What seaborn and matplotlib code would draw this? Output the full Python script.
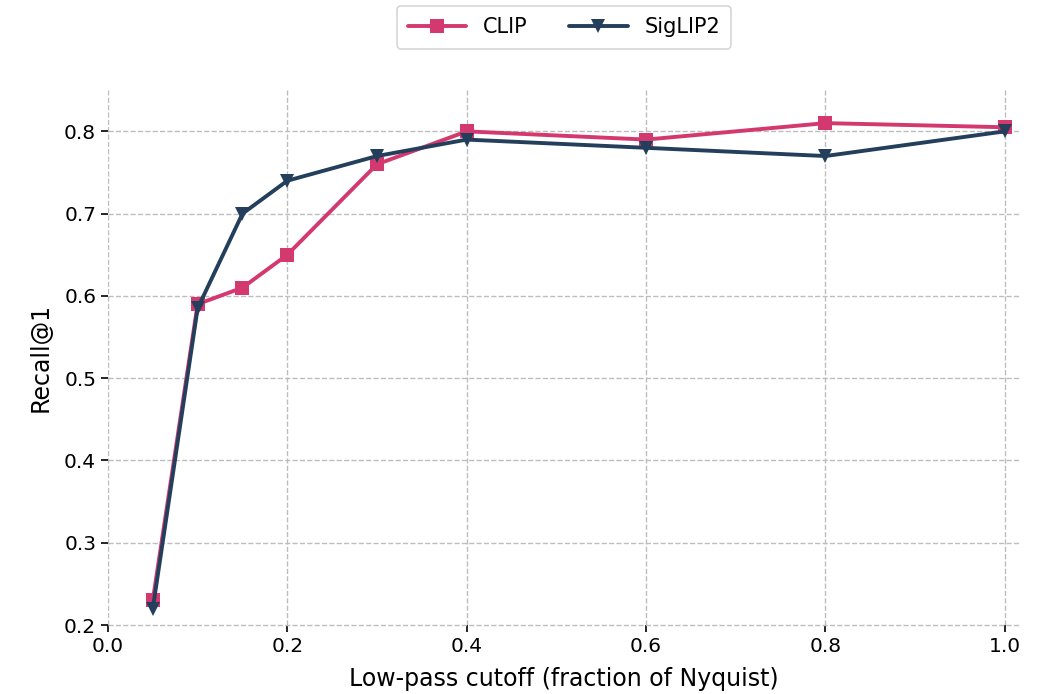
import pandas as pd
import matplotlib
matplotlib.use("Agg")
import matplotlib.pyplot as plt
import seaborn as sns

# Recall@1 versus low-pass cutoff
cutoff = [0.05, 0.1, 0.15, 0.2, 0.3, 0.4, 0.6, 0.8, 1.0]
clip_recall = [0.23, 0.59, 0.61, 0.65, 0.76, 0.80, 0.79, 0.81, 0.805]
siglip2_recall = [0.22, 0.585, 0.70, 0.74, 0.77, 0.79, 0.78, 0.77, 0.80]
models = ["CLIP", "SigLIP2"]

df = pd.concat([
    pd.DataFrame({"cutoff": cutoff, "recall": clip_recall, "model": models[0]}),
    pd.DataFrame({"cutoff": cutoff, "recall": siglip2_recall, "model": models[1]}),
])

sns.set_style("whitegrid")
plt.rcParams["font.family"] = ["DejaVu Sans"]
plt.rcParams["text.color"] = "black"
plt.rcParams["xtick.color"] = "black"
plt.rcParams["ytick.color"] = "black"
plt.rcParams["axes.labelcolor"] = "black"

fig = plt.figure(figsize=(10.43, 6.94), dpi=100)
ax = fig.add_axes([0.1035, 0.0994, 0.8745, 0.7706])

sns.lineplot(data=df, x="cutoff", y="recall", hue="model", style="model",
             markers={"CLIP": "s", "SigLIP2": "v"}, dashes=False,
             palette={"CLIP": "#d3386f", "SigLIP2": "#243f5b"},
             linewidth=2.8, markersize=10, markeredgewidth=0, ax=ax)

ax.set_xlim(0, 1.017)
ax.set_ylim(0.2, 0.85)
ax.set_xticks([0.0, 0.2, 0.4, 0.6, 0.8, 1.0])
ax.set_yticks([0.2, 0.3, 0.4, 0.5, 0.6, 0.7, 0.8])
ax.grid(True, linestyle="--", color="#bdbdbd", linewidth=1)
for gl in ax.yaxis.get_gridlines():
    gl.set_clip_on(False)
for s in ax.spines.values():
    s.set_visible(False)
ax.tick_params(axis="both", which="both", length=5, width=1.2, color="black",
               labelsize=14.5, left=True, bottom=True)
ax.set_xlabel("Low-pass cutoff (fraction of Nyquist)", fontsize=17, labelpad=8)
ax.set_ylabel("Recall@1", fontsize=17, labelpad=8)

leg = ax.legend(loc="upper center", bbox_to_anchor=(0.5, 1.158), ncol=2,
                frameon=True, fontsize=15, handlelength=2.8, columnspacing=2.0,
                borderpad=0.55, borderaxespad=0)
leg.get_frame().set_edgecolor("#cccccc")
leg.get_frame().set_linewidth(1.2)
leg.set_title(None)

fig.savefig("out.png", dpi=100, facecolor="white")
